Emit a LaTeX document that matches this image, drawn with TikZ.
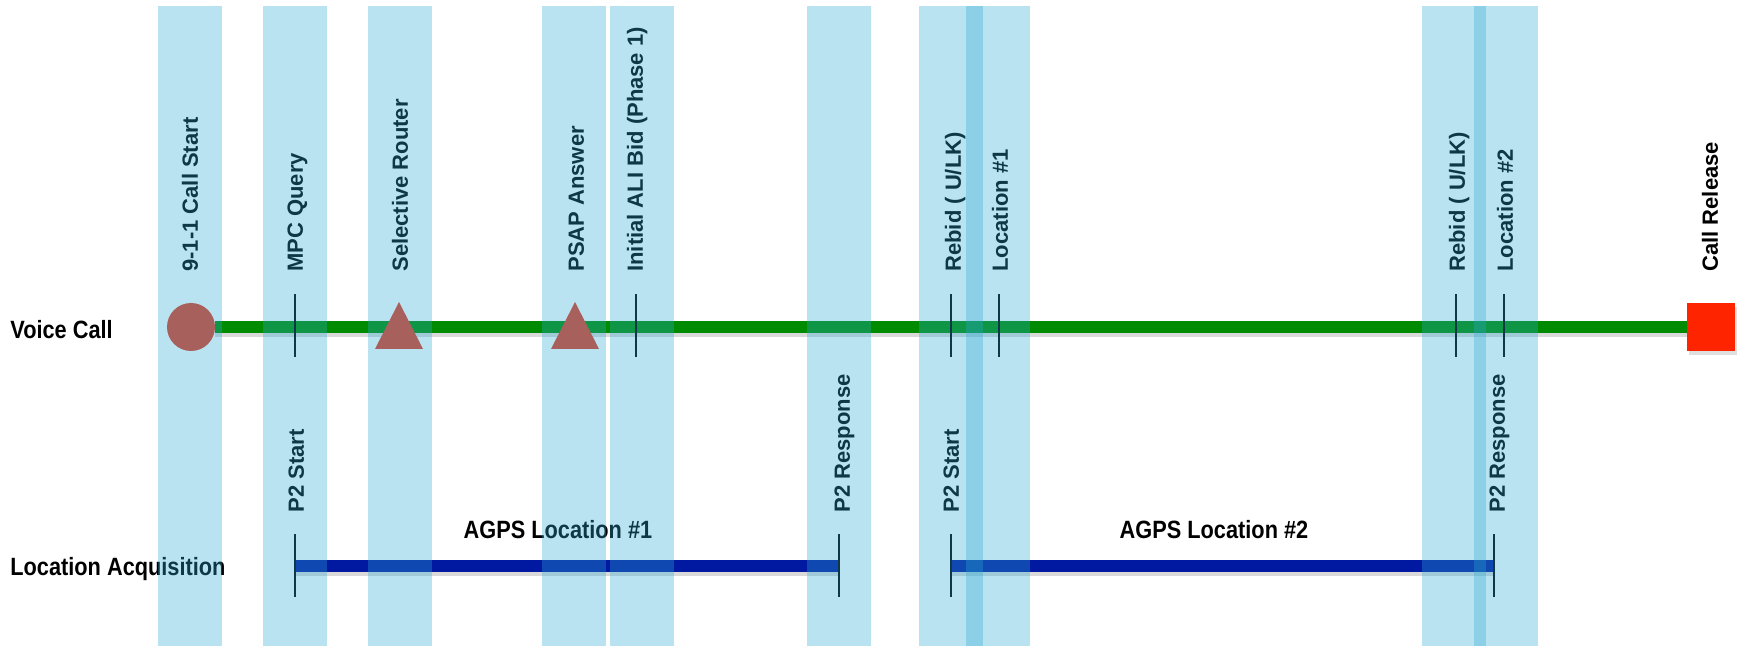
\documentclass[tikz,border=0pt]{standalone}
\usepackage{fontspec}
\setmainfont{Liberation Sans}
\newfontfamily\narrowfont[FakeStretch=0.87]{Liberation Sans}
\usepackage{tikz}
\usetikzlibrary{shadows}

\definecolor{bandblue}{RGB}{43,170,210}
\definecolor{voicegreen}{RGB}{0,139,0}
\definecolor{agpsblue}{RGB}{0,25,160}
\definecolor{markerred}{RGB}{168,96,92}
\definecolor{releasered}{RGB}{255,36,0}

\pgfdeclarelayer{background}
\pgfdeclarelayer{bands}
\pgfdeclarelayer{front}
\pgfsetlayers{background,main,bands,front}

\tikzset{
  evlabel/.style={rotate=90, anchor=west, inner sep=0pt, text height=7.9pt, text depth=0pt,
    font=\bfseries\fontsize{11}{13}\selectfont},
  rowlabel/.style={inner sep=0pt, font=\narrowfont\bfseries\fontsize{12.5}{15}\selectfont},
  tickmark/.style={rectangle, fill=black, inner sep=0pt, minimum width=1.25pt, minimum height=31.5pt},
  band/.style={fill=bandblue, fill opacity=0.33},
  lineshadow/.style={preaction={draw=black, draw opacity=0.15, line width=4pt, transform canvas={yshift=-3pt}}},
  voiceline/.style={voicegreen, line width=6pt},
  agpsbar/.style={agpsblue, line width=6pt}
}

\begin{document}
\begin{tikzpicture}[x=0.5pt, y=-0.5pt]
\useasboundingbox (0,0) rectangle (1738,646);

% marker auf der sprachleitung
\begin{pgfonlayer}{front}
\node[circle, fill=markerred, minimum size=24pt, inner sep=0pt] (callstart) at (191,327) {};
\fill[markerred] (375,349) -- (399,302) -- (423,349) -- cycle;
\fill[markerred] (551,349) -- (575,302) -- (599,349) -- cycle;
\node[rectangle, fill=releasered, minimum size=24pt, inner sep=0pt,
  drop shadow={shadow xshift=1pt, shadow yshift=-2pt, opacity=0.25}] (release) at (1711,327) {};
\end{pgfonlayer}

% striche
\node[tickmark] (mpc) at (295,325.5) {};
\node[tickmark] (ali) at (636,325.5) {};
\node[tickmark] (rebid1) at (951,325.5) {};
\node[tickmark] (loc1) at (999,325.5) {};
\node[tickmark] (rebid2) at (1456,325.5) {};
\node[tickmark] (loc2) at (1504,325.5) {};

\node[tickmark] (p2start1) at (295,565.5) {};
\node[tickmark] (p2resp1) at (839,565.5) {};
\node[tickmark] (p2start2) at (951,565.5) {};
\node[tickmark] (p2resp2) at (1494,565.5) {};

\begin{pgfonlayer}{background}
\draw[voiceline, lineshadow] (callstart) -- (release);
\draw[agpsbar, lineshadow] (p2start1.center) -- (p2resp1.center);
\draw[agpsbar, lineshadow] (p2start2.center) -- (p2resp2.center);
\end{pgfonlayer}

% beschriftung oben
\node[evlabel] (lblcall) at (190,272) {9-1-1 Call Start};
\node[evlabel] (lblmpc) at (295,272) {MPC Query};
\node[evlabel] (lblrouter) at (400,272) {Selective Router};
\node[evlabel] (lblpsap) at (576,272) {PSAP Answer};
\node[evlabel] (lblali) at (635,272) {Initial ALI Bid (Phase 1)};
\node[evlabel] (lblrebid1) at (953,272) {Rebid ( U/LK)};
\node[evlabel] (lblloc1) at (1000,272) {Location \#1};
\node[evlabel] (lblrebid2) at (1457,272) {Rebid ( U/LK)};
\node[evlabel] (lblloc2) at (1505,272) {Location \#2};
\node[evlabel] (lblrelease) at (1710,272) {Call Release};

% beschriftung unten
\node[evlabel] (lblp2s1) at (296,513) {P2 Start};
\node[evlabel] (lblp2r1) at (842,513) {P2 Response};
\node[evlabel] (lblp2s2) at (951,513) {P2 Start};
\node[evlabel] (lblp2r2) at (1497,513) {P2 Response};

\node[rowlabel, anchor=base west] (voice) at (10,339) {Voice Call};
\node[rowlabel, anchor=base west] (locacq) at (10,575) {Location Acquisition};
\node[rowlabel, anchor=base] (agps1) at (558,538) {AGPS Location \#1};
\node[rowlabel, anchor=base] (agps2) at (1214,538) {AGPS Location \#2};

% blaue balken
\begin{pgfonlayer}{bands}
\fill[band] (158,6) rectangle (222,646);
\fill[band] (263,6) rectangle (327,646);
\fill[band] (368,6) rectangle (432,646);
\fill[band] (542,6) rectangle (606,646);
\fill[band] (610,6) rectangle (674,646);
\fill[band] (807,6) rectangle (871,646);
\fill[band] (919,6) rectangle (983,646);
\fill[band] (966,6) rectangle (1030,646);
\fill[band] (1422,6) rectangle (1486,646);
\fill[band] (1474,6) rectangle (1538,646);
\end{pgfonlayer}

\end{tikzpicture}
\end{document}
